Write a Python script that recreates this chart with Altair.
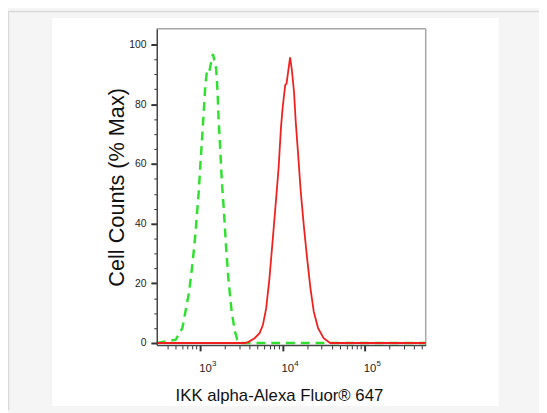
import altair as alt
import pandas as pd

# ---- data (fluorescence intensity, % of max) ----
green_x = [297, 506, 608, 733, 802, 879, 965, 1008, 1057, 1107, 1157, 1213, 1292,
           1393, 1432, 1567, 1629, 1675, 1751, 1834, 1954, 2065, 2207, 2416, 2648,
           2826, 3014, 552000]
green_y = [0, 1.1, 5, 17, 25.8, 36.9, 51.2, 60, 68.7, 77.6, 86.4, 91.3, 90.8,
           95.7, 96.8, 91.8, 84.2, 75.3, 65.4, 54.5, 43.5, 32.4, 21.5, 10.5, 3.9,
           1.1, 0, 0]

red_x = [297, 3500, 3828, 4592, 5272, 5791, 6346, 6950, 7634, 8362, 8999, 9594,
         10050, 10810, 11230, 11860, 12400, 12990, 13840, 14510, 15630, 16660,
         18250, 20030, 21950, 24050, 27150, 31700, 38090, 552000]
red_y = [0, 0, 0.3, 1.6, 3.3, 6, 11.6, 21.5, 34.7, 47.9, 58.8, 72,
         78.6, 86.4, 86.9, 91.8, 95.7, 91.8, 84.2, 74.3, 62.1, 51.2,
         39, 28, 18.2, 10.5, 5, 1.6, 0, 0]

decades = [1000, 10000, 100000]
decade_base = ["10", "10", "10"]
decade_exp = ["3", "4", "5"]

x_ticks = [400, 500, 600, 700, 800, 900, 1000,
           2000, 3000, 4000, 5000, 6000, 7000, 8000, 9000, 10000,
           20000, 30000, 40000, 50000, 60000, 70000, 80000, 90000, 100000,
           200000, 300000, 400000, 500000]
y_ticks = list(range(0, 101, 5))

W, H = 273, 321
FONT = "Liberation Sans"

green_df = pd.DataFrame({"x": green_x, "y": green_y})
red_df = pd.DataFrame({"x": red_x, "y": red_y})
lab_df = pd.DataFrame({"x": decades, "base": decade_base, "exp": decade_exp})
one = pd.DataFrame({"a": [0]})

xscale = alt.Scale(type="log", domain=[297, 552000], nice=False)
yscale = alt.Scale(domain=[-0.66, 105.3], nice=False, zero=False)

major_x = "datum.value==1000||datum.value==10000||datum.value==100000"
major_y = "datum.value % 20 == 0"

xaxis = alt.Axis(
    values=x_ticks, labels=False, grid=False, zindex=1,
    domainColor="#444", domainWidth=1.5, tickColor="#333",
    tickSize={"condition": {"test": major_x, "value": 6}, "value": 4},
    tickWidth={"condition": {"test": major_x, "value": 2}, "value": 1},
    title="IKK alpha-Alexa Fluor® 647", titleFont=FONT, titleFontSize=17,
    titleFontWeight="normal", titleColor="#111",
    titleX=124, titleY=56, titleBaseline="alphabetic", titleAlign="center",
)
yaxis = alt.Axis(
    values=y_ticks, grid=False, zindex=1,
    labelExpr="datum.value % 20 == 0 ? datum.label : ''",
    labelFont=FONT, labelFontSize=10.5, labelColor="#222", labelPadding=5,
    domainColor="#444", domainWidth=1.5, tickColor="#333",
    tickSize={"condition": {"test": major_y, "value": 6}, "value": 3},
    tickWidth={"condition": {"test": major_y, "value": 2}, "value": 1},
    title="Cell Counts (% Max)", titleFont=FONT, titleFontSize=22,
    titleFontWeight="normal", titleColor="#111", titleAngle=270,
    titleX=-34, titleY=160.5, titleBaseline="alphabetic", titleAlign="center",
)

xenc = alt.X("x:Q", scale=xscale, axis=xaxis)
yenc = alt.Y("y:Q", scale=yscale, axis=yaxis)

# decorations: outer frame lines, white panel, plot border
frame_left = alt.Chart(one).mark_rule(color="#d9d9d9", strokeWidth=1.5).encode(
    x=alt.value(-150.5), y=alt.value(-18), y2=alt.value(387))
frame_top = alt.Chart(one).mark_rule(color="#d9d9d9", strokeWidth=1.5).encode(
    y=alt.value(-17.5), x=alt.value(-151), x2=alt.value(388))
panel = alt.Chart(one).mark_rect(color="#ffffff").encode(
    x=alt.value(-106), x2=alt.value(347), y=alt.value(-11), y2=alt.value(383))
border_top = alt.Chart(one).mark_rule(color="#a6a6a6", strokeWidth=1.5).encode(
    y=alt.value(0), x=alt.value(0), x2=alt.value(W))
border_right = alt.Chart(one).mark_rule(color="#a6a6a6", strokeWidth=1.5).encode(
    x=alt.value(W), y=alt.value(0), y2=alt.value(H))

green = alt.Chart(green_df).mark_line(
    color="#2fe02f", strokeWidth=2.5, strokeDash=[9, 6]).encode(x=xenc, y=yenc)
red = alt.Chart(red_df).mark_line(
    color="#f0201e", strokeWidth=1.8).encode(x=xenc, y=yenc)

base_lab = alt.Chart(lab_df).mark_text(
    font=FONT, fontSize=11.5, color="#222", align="left", baseline="alphabetic",
    dx=-1).encode(x=xenc, y=alt.value(H + 27), text="base:N")
exp_lab = alt.Chart(lab_df).mark_text(
    font=FONT, fontSize=8, color="#222", align="left", baseline="alphabetic",
    dx=12).encode(x=xenc, y=alt.value(H + 21), text="exp:N")

chart = alt.layer(
    frame_left, frame_top, panel, border_top, border_right,
    green, red, base_lab, exp_lab
).properties(
    width=W, height=H,
    autosize=alt.AutoSizeParams(type="none"),
    padding={"left": 151, "top": 18, "right": 115, "bottom": 66},
).configure(background="#f5f5f5").configure_view(stroke=None)

chart.save("out.html", embed_options={"renderer": "svg", "actions": False})
